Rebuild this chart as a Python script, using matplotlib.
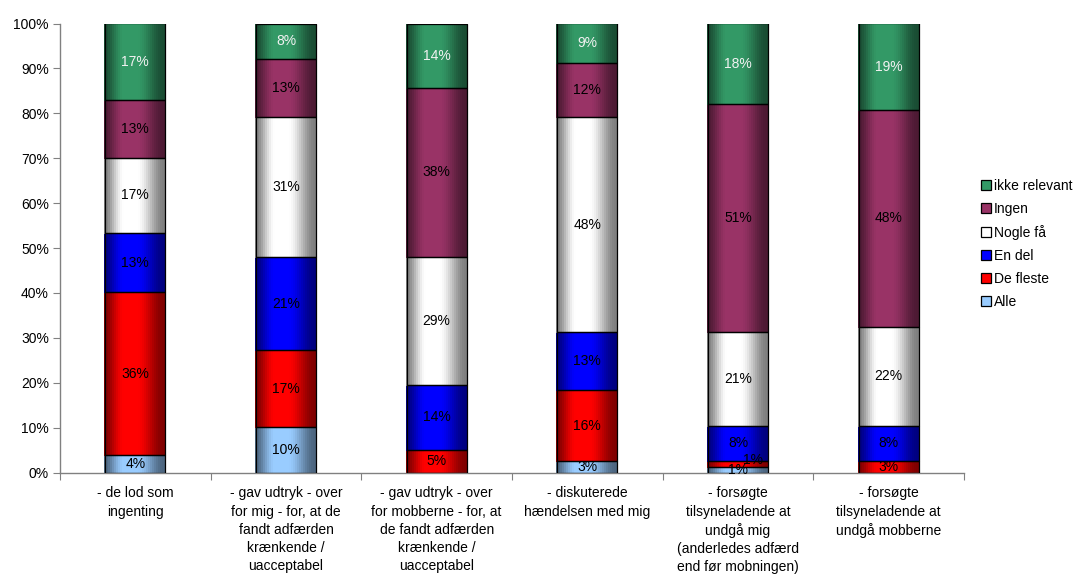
import numpy as np
import matplotlib
matplotlib.use('Agg')
import matplotlib.pyplot as plt
from matplotlib.patches import Patch
from matplotlib.colors import to_rgb

plt.rcParams['font.family'] = ['Liberation Sans', 'DejaVu Sans']

categories = [
    "- de lod som\ningenting",
    "- gav udtryk - over\nfor mig - for, at de\nfandt adfærden\nkrænkende /\nuacceptabel",
    "- gav udtryk - over\nfor mobberne - for, at\nde fandt adfærden\nkrænkende /\nuacceptabel",
    "- diskuterede\nhændelsen med mig",
    "- forsøgte\ntilsyneladende at\nundgå mig\n(anderledes adfærd\nend før mobningen)",
    "- forsøgte\ntilsyneladende at\nundgå mobberne",
]

series_names = ["Alle", "De fleste", "En del", "Nogle få", "Ingen", "ikke relevant"]
alle = [3.9, 10.2, 0.0, 2.6, 1.3, 0.0]
de_fleste = [36.2, 17.0, 5.1, 15.7, 1.3, 2.6]
en_del = [13.3, 20.8, 14.4, 12.9, 7.8, 7.8]
nogle_faa = [16.7, 31.1, 28.6, 48.0, 20.8, 22.1]
ingen = [12.9, 13.1, 37.6, 11.9, 50.8, 48.2]
ikke_relevant = [17.0, 7.8, 14.3, 8.9, 18.0, 19.3]

series_values = [alle, de_fleste, en_del, nogle_faa, ingen, ikke_relevant]
series_colors = ["#99ccff", "#ff0000", "#0000ff", "#ffffff", "#993366", "#339966"]
label_colors = ["black", "black", "black", "black", "black", "#f2f2f2"]

y_ticks = list(range(0, 101, 10))

fig = plt.figure(figsize=(10.82, 5.77), dpi=100)
ax = fig.add_axes([60 / 1082, 1 - 472.5 / 577, (964 - 60) / 1082, (472.5 - 23.5) / 577])

x = np.arange(len(categories))
width = 0.4

# horizontal shading profile: dark edges, bright plateau slightly left of centre
n_strips = 30
t = (np.arange(n_strips) + 0.5) / n_strips
rise = np.clip(t / 0.33, 0, 1)
fall = np.clip((1 - t) / 0.45, 0, 1)
prof = np.minimum(rise, fall)
prof = prof * prof * (3 - 2 * prof)
prof = 0.5 + 0.5 * prof
sw = width / n_strips

bottom = np.zeros(len(categories))
for vals, col in zip(series_values, series_colors):
    vals = np.array(vals)
    base = np.array(to_rgb(col))
    for j in range(n_strips):
        c = tuple(base * prof[j])
        ax.bar(x - width / 2 + (j + 0.5) * sw, vals, sw, bottom=bottom, color=c,
               edgecolor=c, linewidth=0.3, antialiased=False, zorder=2)
    ax.bar(x, vals, width, bottom=bottom, color="none", edgecolor="black",
           linewidth=0.9, zorder=3)
    bottom = bottom + vals

# value labels
bottom = np.zeros(len(categories))
for k, (vals, lcol) in enumerate(zip(series_values, label_colors)):
    for i, v in enumerate(vals):
        if v <= 0:
            continue
        yc = bottom[i] + v / 2
        offx, offy = 0, 0
        prev = series_values[k - 1][i] if k > 0 else 0
        if v < 2 and 0 < prev < 2:
            offx, offy = 11, 3
        ax.annotate(f"{int(v + 0.5)}%", (x[i], yc), xytext=(offx, offy),
                    textcoords="offset points", ha="center", va="center",
                    fontsize=10, color=lcol, zorder=5)
    bottom = bottom + np.array(vals)

ax.set_xlim(-0.5, len(categories) - 0.5)
ax.set_ylim(0, 100)
ax.set_yticks(y_ticks)
ax.set_yticklabels([f"{v}%" for v in y_ticks], fontsize=10)

ax.set_xticks(np.arange(-0.5, len(categories), 1.0))
ax.set_xticklabels([])
ax.set_xticks(x, minor=True)
ax.set_xticklabels(categories, minor=True, fontsize=10, linespacing=1.38, va="top")
ax.tick_params(axis="x", which="major", length=5, color="#808080", direction="out")
ax.tick_params(axis="x", which="minor", length=0, pad=10)
ax.tick_params(axis="y", length=5, color="#808080", direction="out", pad=3)

for s in ["top", "right"]:
    ax.spines[s].set_visible(False)
for s in ["left", "bottom"]:
    ax.spines[s].set_color("#808080")
    ax.spines[s].set_linewidth(1.0)

handles = [Patch(facecolor=c, edgecolor="black", linewidth=0.9) for c in series_colors]
fig.legend(handles[::-1], series_names[::-1], loc="upper left",
           bbox_to_anchor=(981 / 1082, 1 - 179 / 577), frameon=False, fontsize=10,
           handlelength=0.75, handleheight=0.75, handletextpad=0.2, labelspacing=0.65,
           borderaxespad=0, borderpad=0)

fig.savefig("out.png", dpi=100)
